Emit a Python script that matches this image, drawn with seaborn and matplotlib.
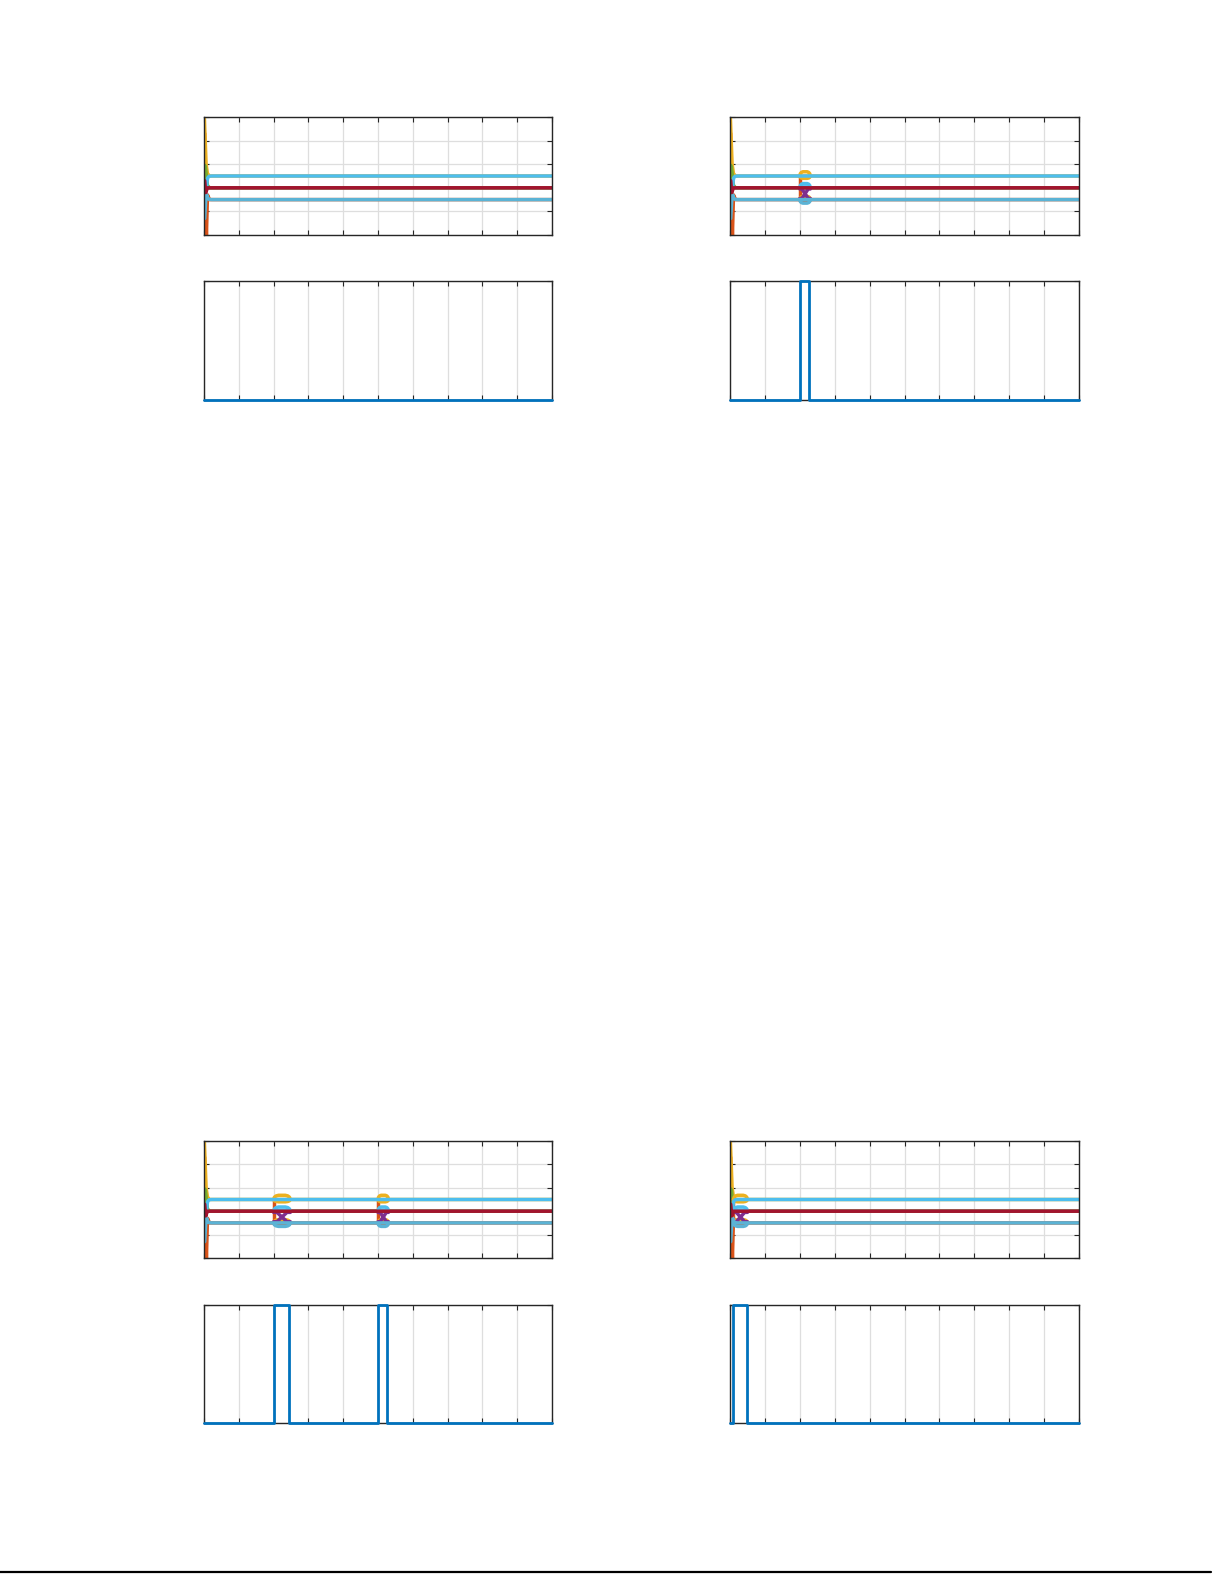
import matplotlib
matplotlib.use("Agg")
import matplotlib.pyplot as plt
from matplotlib.lines import Line2D
import seaborn as sns

sns.set_theme(style="white")

# MATLAB-like colours
c_blue = "#0072BD"
c_orange = "#D95319"
c_yellow = "#EDB120"
c_purple = "#7E2F8E"
c_green = "#77AC30"
c_cyan = "#4DBEEE"
c_cyan2 = "#5BB3D5"
c_red = "#A2142F"

# start-up transient, same in all four top panels
yel_x = [0.01, 0.03, 0.06, 0.1, 0.16, 10.0]
yel_y = [3.0, 2.2, 1.0, 0.6, 0.5, 0.5]
ora_x = [0.02, 0.035, 0.05, 0.07, 0.1, 0.16, 10.0]
ora_y = [2.3, 1.0, -0.8, -2.0, -0.3, -0.5, -0.5]
grn_x = [0.02, 0.04, 0.07, 0.1, 0.16, 10.0]
grn_y = [0.95, 0.9, 0.5, 0.1, 0.0, 0.0]
pur_x = [0.02, 0.05, 0.11, 10.0]
pur_y = [-0.2, 0.1, 0.0, 0.0]
cyu_x = [0.08, 0.09, 0.11, 0.15, 0.22, 10.0]
cyu_y = [0.0, 0.3, 0.43, 0.49, 0.5, 0.5]
cyl_x = [0.02, 0.03, 0.05, 0.08, 0.11, 0.15, 0.22, 10.0]
cyl_y = [-1.3, -1.0, -0.5, -0.3, -0.45, -0.49, -0.5, -0.5]
red_x = [0.02, 0.05, 0.1, 10.0]
red_y = [0.3, -0.2, 0.0, 0.0]

# fault events (start, end) per panel
events_tl = []
events_tr = [(2.0, 2.3)]
events_bl = [(2.0, 2.48), (5.0, 5.3)]
events_br = [(0.1, 0.5)]

# loop shape across an event (relative position, fraction of excursion)
arc_t = [0.0, 0.05, 0.15, 0.3, 0.7, 0.85, 0.95, 1.0]
arc_f = [0.0, 0.55, 0.85, 1.0, 1.0, 0.85, 0.55, 0.0]
# (colour, base level, peak level)
arcs = [
    (c_orange, -0.5, -0.6),
    (c_yellow, 0.5, 0.68),
    (c_yellow, 0.5, 0.4),
    (c_yellow, -0.5, -0.36),
    (c_cyan, 0.0, 0.18),
    (c_cyan, 0.0, 0.04),
    (c_cyan2, -0.5, -0.65),
]
# purple cross between centre and lower level
cross_a = [-0.05, -0.45]
cross_b = [-0.45, -0.05]

# gate / fault signals for the lower panels
sig_tl_x = [0, 10]
sig_tl_y = [0, 0]
sig_tr_x = [0, 2.0, 2.0, 2.25, 2.25, 10]
sig_tr_y = [0, 0, 1, 1, 0, 0]
sig_bl_x = [0, 2.0, 2.0, 2.45, 2.45, 5.0, 5.0, 5.25, 5.25, 10]
sig_bl_y = [0, 0, 1, 1, 0, 0, 1, 1, 0, 0]
sig_br_x = [0, 0.1, 0.1, 0.48, 0.48, 10]
sig_br_y = [0, 0, 1, 1, 0, 0]

x_ticks = list(range(0, 11))
top_yticks = [-2, -1, 0, 1, 2, 3]
bot_yticks = [0, 1]


def style(ax, yticks, ylim):
    ax.set_xlim(0, 10)
    ax.set_ylim(*ylim)
    ax.set_xticks(x_ticks)
    ax.set_yticks(yticks)
    ax.grid(True, color="#dedede", lw=0.9)
    ax.set_axisbelow(True)
    ax.tick_params(direction="in", length=3.5, width=0.8, color="#262626",
                   top=True, right=True, bottom=True, left=True,
                   labelbottom=False, labelleft=False)
    for s in ax.spines.values():
        s.set_color("#262626")
        s.set_linewidth(1.0)
    ax.set_xlabel("")
    ax.set_ylabel("")


def line(ax, x, y, color, lw=2.5):
    sns.lineplot(x=x, y=y, sort=False, estimator=None, color=color, lw=lw, ax=ax)


def top_panel(ax, events):
    line(ax, ora_x, ora_y, c_orange)
    line(ax, yel_x, yel_y, c_yellow)
    line(ax, pur_x, pur_y, c_purple)
    line(ax, grn_x, grn_y, c_green)
    for a, b in events:
        w = b - a
        line(ax, [a, a], [0.5, -0.5], c_orange)
        for col, base, peak in arcs:
            xs = [a + t * w for t in arc_t]
            ys = [base + f * (peak - base) for f in arc_f]
            line(ax, xs, ys, col)
        line(ax, [a, a + 0.2 * w, b - 0.2 * w, b], [cross_a[0], cross_a[0], cross_a[1], cross_a[1]], c_purple)
        line(ax, [a, a + 0.2 * w, b - 0.2 * w, b], [cross_b[0], cross_b[0], cross_b[1], cross_b[1]], c_purple)
    line(ax, cyl_x, cyl_y, c_cyan2)
    line(ax, cyu_x, cyu_y, c_cyan)
    line(ax, red_x, red_y, c_red)
    style(ax, top_yticks, (-2, 3))


def bottom_panel(ax, x, y):
    sns.lineplot(x=x, y=y, sort=False, estimator=None, color=c_blue, lw=2.0,
                 ax=ax, clip_on=False, zorder=3)
    style(ax, bot_yticks, (0, 1))


fig = plt.figure(figsize=(12.25, 15.85), dpi=100)

W = 1225.0
H = 1585.0


def box(x0, y0, x1, y1):
    return [x0 / W, 1 - y1 / H, (x1 - x0) / W, (y1 - y0) / H]


ax1 = fig.add_axes(box(204, 117, 552, 235))
ax2 = fig.add_axes(box(204, 281, 552, 400))
ax3 = fig.add_axes(box(730, 117, 1079, 235))
ax4 = fig.add_axes(box(730, 281, 1079, 400))
ax5 = fig.add_axes(box(204, 1141, 552, 1258))
ax6 = fig.add_axes(box(204, 1305, 552, 1423))
ax7 = fig.add_axes(box(730, 1141, 1079, 1258))
ax8 = fig.add_axes(box(730, 1305, 1079, 1423))

top_panel(ax1, events_tl)
bottom_panel(ax2, sig_tl_x, sig_tl_y)
top_panel(ax3, events_tr)
bottom_panel(ax4, sig_tr_x, sig_tr_y)
top_panel(ax5, events_bl)
bottom_panel(ax6, sig_bl_x, sig_bl_y)
top_panel(ax7, events_br)
bottom_panel(ax8, sig_br_x, sig_br_y)

# page rule at the bottom
fig.add_artist(Line2D([0, 1211 / W], [1 - 1572 / H, 1 - 1572 / H], color="black", lw=1.6))

fig.savefig("out.png", dpi=100)
